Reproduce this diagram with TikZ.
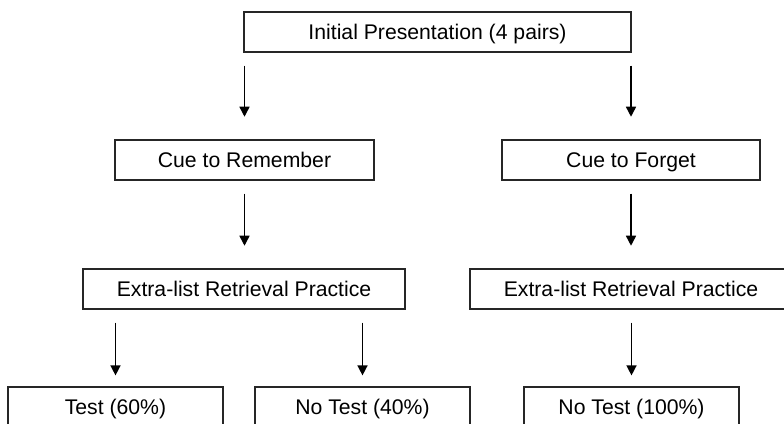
\documentclass[tikz,border=0pt]{standalone}
\usepackage{fontspec}
\setmainfont{Liberation Sans}
\usetikzlibrary{arrows.meta}
\usetikzlibrary{positioning}

\begin{document}
\begin{tikzpicture}[x=0.75pt, y=-0.75pt, >={Triangle[width=7.5pt,length=7.5pt]},
	main box/.style={draw=black!85, line width=0.9pt, rectangle, minimum height=30pt, inner sep=0pt,
		font=\fontsize{15.9}{19}\selectfont, text height=11.4pt, text depth=0pt},
	flow/.style={->, line width=1.1pt, shorten <=9.75pt, shorten >=17pt},
	last flow/.style={flow, shorten >=8.25pt}]

  \useasboundingbox (0,0) rectangle (784,424);
  \clip (0,0) rectangle (784,424);

  \node[main box, minimum width=290.25pt] (init) at (437.5,32) {Initial Presentation (4 pairs)};
  \node[main box, minimum width=194.25pt] (remember) at (244.5,160) {Cue to Remember};
  \node[main box, minimum width=193.5pt] (forget) at (631,160) {Cue to Forget};
  \node[main box, minimum width=241.5pt] (rp1) at (244,289) {Extra-list Retrieval Practice};
  \node[main box, minimum width=241.5pt] (rp2) at (631,289) {Extra-list Retrieval Practice};
  \node[main box, minimum width=161.25pt] (test) at (115.5,407) {Test (60\%)};
  \node[main box, minimum width=161.25pt] (notest1) at (362.5,407) {No Test (40\%)};
  \node[main box, minimum width=161.25pt] (notest2) at (631.5,407) {No Test (100\%)};

  \draw[flow] (remember.north |- init.south) -- (remember.north);
  \draw[flow] (forget.north |- init.south) -- (forget.north);
  \draw[flow] (remember.south) -- (rp1.north -| remember.south);
  \draw[flow] (forget.south) -- (rp2.north -| forget.south);
  \draw[last flow] (test.north |- rp1.south) -- (test.north);
  \draw[last flow] (notest1.north |- rp1.south) -- (notest1.north);
  \draw[last flow] (notest2.north |- rp2.south) -- (notest2.north);
\end{tikzpicture}
\end{document}
